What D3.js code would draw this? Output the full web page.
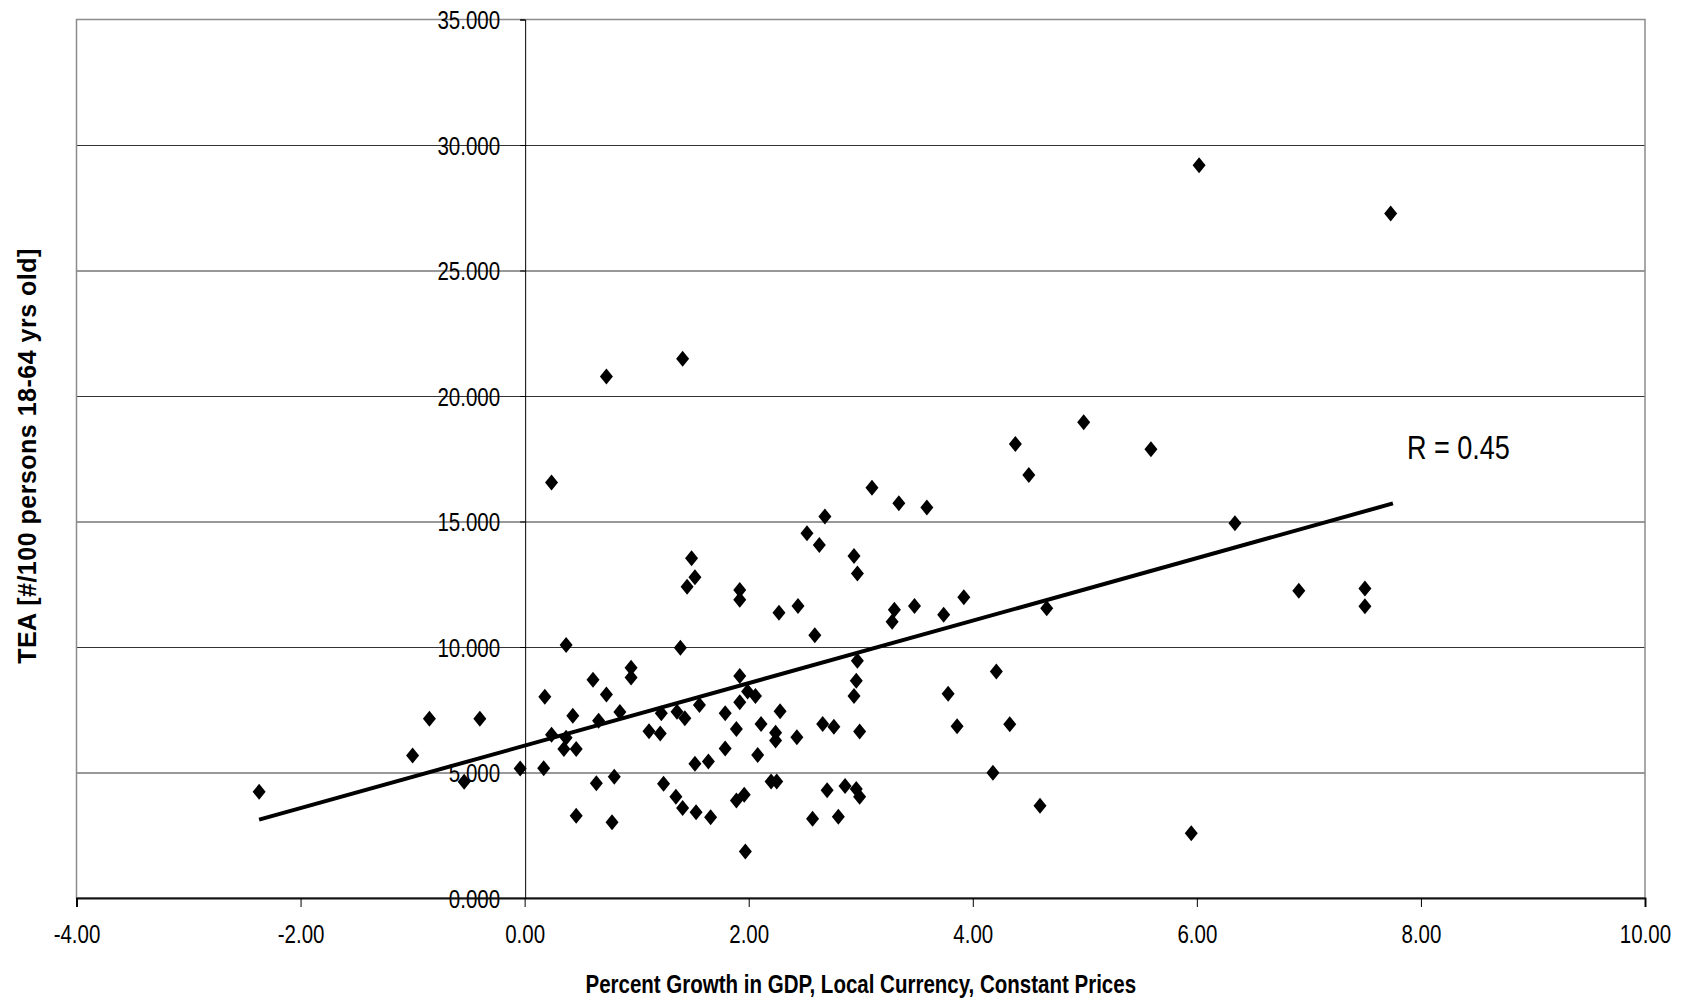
<!DOCTYPE html>
<html>
<head>
<meta charset="utf-8">
<script src="https://cdn.jsdelivr.net/npm/d3@7"></script>
<style>
  body { margin: 0; background: #fff; }
  text { font-family: "Liberation Sans", Arial, sans-serif; fill: #000; }
</style>
</head>
<body>
<svg class="chart"></svg>
<script>
// GDP growth (x) vs TEA rate (y), one diamond per country-year
var gdpGrowth = [
  -2.37, -1.00, -0.85, -0.40, -0.54, -0.04, 0.17, 0.18, 0.24, 0.24,
  0.37, 0.37, 0.35, 0.43, 0.46, 0.46, 0.61, 0.64, 0.66, 0.73,
  0.73, 0.78, 0.80, 0.85, 0.95, 0.95, 1.11, 1.21, 1.24, 1.22,
  1.35, 1.39, 1.36, 1.41, 1.43, 1.41, 1.45, 1.49, 1.52, 1.52,
  1.53, 1.56, 1.64, 1.66, 1.79, 1.79, 1.89, 1.89, 1.92, 1.92,
  1.92, 1.92, 1.96, 1.97, 1.99, 2.06, 2.08, 2.11, 2.20, 2.25,
  2.24, 2.24, 2.28, 2.27, 2.43, 2.44, 2.52, 2.57, 2.59, 2.63,
  2.66, 2.68, 2.70, 2.76, 2.80, 2.86, 2.94, 2.94, 2.96, 2.96,
  2.97, 2.97, 2.99, 2.99, 3.10, 3.28, 3.30, 3.34, 3.48, 3.59,
  3.74, 3.78, 3.86, 3.92, 4.18, 4.21, 4.33, 4.38, 4.50, 4.60,
  4.66, 4.99, 5.59, 5.95, 6.02, 6.34, 6.91, 7.50, 7.50, 7.73
];
var teaRate = [
  4.23, 5.68, 7.14, 7.14, 4.63, 5.16, 5.17, 8.02, 16.55, 6.50,
  10.08, 6.38, 5.94, 7.26, 5.94, 3.28, 8.70, 4.57, 7.06, 20.78,
  8.11, 3.02, 4.83, 7.41, 9.17, 8.78, 6.64, 6.55, 4.55, 7.36,
  4.03, 9.97, 7.42, 3.59, 7.16, 21.48, 12.40, 13.54, 12.78, 5.35,
  3.42, 7.69, 5.44, 3.22, 7.36, 5.96, 6.73, 3.88, 8.84, 12.27,
  11.88, 7.80, 4.11, 1.85, 8.23, 8.05, 5.70, 6.93, 4.64, 4.64,
  6.58, 6.27, 7.44, 11.36, 6.40, 11.63, 14.53, 3.16, 10.47, 14.06,
  6.93, 15.20, 4.29, 6.82, 3.24, 4.46, 13.63, 8.05, 8.66, 4.34,
  9.45, 12.93, 4.03, 6.63, 16.34, 11.01, 11.48, 15.73, 11.63, 15.56,
  11.28, 8.14, 6.84, 11.98, 4.99, 9.02, 6.92, 18.09, 16.85, 3.68,
  11.54, 18.95, 17.88, 2.58, 29.19, 14.93, 12.24, 12.33, 11.62, 27.27
];

// linear trend line end points
var trendX = [-2.37, 7.75];
var trendY = [3.12, 15.72];

var xTicks = [-4, -2, 0, 2, 4, 6, 8, 10];
var yTicks = [0, 5, 10, 15, 20, 25, 30, 35];

var width = 1682;
var height = 1004;
var squeeze = 0.82; // no narrow font installed, so squash text horizontally

var svg = d3.select(".chart").attr("width", width).attr("height", height);

var x = d3.scaleLinear().domain([-4, 10]).range([76.5, 1645]);
var y = d3.scaleLinear().domain([0, 35]).range([898, 19.5]);

// move x/y into a transform so the horizontal squeeze keeps the anchor point
function narrow(sel) {
  sel.each(function() {
    var t = d3.select(this);
    var tx = +t.attr("x") || 0, ty = +t.attr("y") || 0;
    t.attr("x", 0).attr("y", 0)
      .attr("transform", "translate(" + tx + "," + ty + ") scale(" + squeeze + ",1)");
  });
}

// horizontal gridlines
svg.append("g").selectAll("line")
  .data(yTicks.filter(function(d) { return d > 0 && d < 35; }))
  .enter().append("line")
    .attr("x1", x(-4)).attr("x2", x(10))
    .attr("y1", function(d) { return y(d) + 0.5; })
    .attr("y2", function(d) { return y(d) + 0.5; })
    .attr("stroke", "#333").attr("stroke-width", 1);

// plot frame (grey)
svg.append("rect")
  .attr("x", x(-4)).attr("y", y(35))
  .attr("width", x(10) - x(-4)).attr("height", y(0) - y(35))
  .attr("fill", "none").attr("stroke", "#8c8c8c").attr("stroke-width", 1.5);

// y axis sits at x = 0
var yAxis = svg.append("g")
  .attr("transform", "translate(" + (x(0) + 0.5) + ",0)")
  .call(d3.axisLeft(y).tickValues(yTicks).tickSize(5).tickPadding(20)
    .tickFormat(function(d) { return d.toFixed(3); }));
yAxis.select(".domain").attr("stroke", "#000");
yAxis.selectAll("text").attr("font-size", 25).attr("font-family", null).attr("dy", "0.36em").call(narrow);

// x axis along the bottom
var xAxis = svg.append("g")
  .attr("transform", "translate(0," + y(0) + ")")
  .call(d3.axisBottom(x).tickValues(xTicks).tickSize(9).tickPadding(18)
    .tickFormat(function(d) { return d.toFixed(2); }));
xAxis.select(".domain").attr("stroke", "#111").attr("stroke-width", 2);
xAxis.selectAll("text").attr("font-size", 25).attr("font-family", null).call(narrow);

// trend line
var line = d3.line()
  .x(function(d) { return x(d[0]); })
  .y(function(d) { return y(d[1]); });

svg.append("path")
  .datum(d3.zip(trendX, trendY))
  .attr("d", line)
  .attr("fill", "none")
  .attr("stroke", "#000")
  .attr("stroke-width", 4);

// diamonds
var diamond = "M0,-8L6.5,0L0,8L-6.5,0Z";
svg.append("g").selectAll("path")
  .data(d3.zip(gdpGrowth, teaRate))
  .enter().append("path")
    .attr("d", diamond)
    .attr("transform", function(d) { return "translate(" + x(d[0]) + "," + y(d[1]) + ")"; })
    .attr("fill", "#000");

// correlation label
svg.append("text")
  .attr("x", x(7.875)).attr("y", y(17.5))
  .attr("font-size", 33)
  .text("R = 0.45")
  .call(narrow);

// axis titles
svg.append("text")
  .attr("x", (x(-4) + x(10)) / 2).attr("y", 993)
  .attr("text-anchor", "middle")
  .attr("font-size", 25).attr("font-weight", "bold")
  .text("Percent Growth in GDP, Local Currency, Constant Prices")
  .call(narrow);

svg.append("text")
  .attr("transform", "translate(36,456) rotate(-90)")
  .attr("text-anchor", "middle")
  .attr("font-size", 25).attr("font-weight", "bold")
  .attr("letter-spacing", 0.5)
  .text("TEA [#/100 persons 18-64 yrs old]");
</script>
</body>
</html>
